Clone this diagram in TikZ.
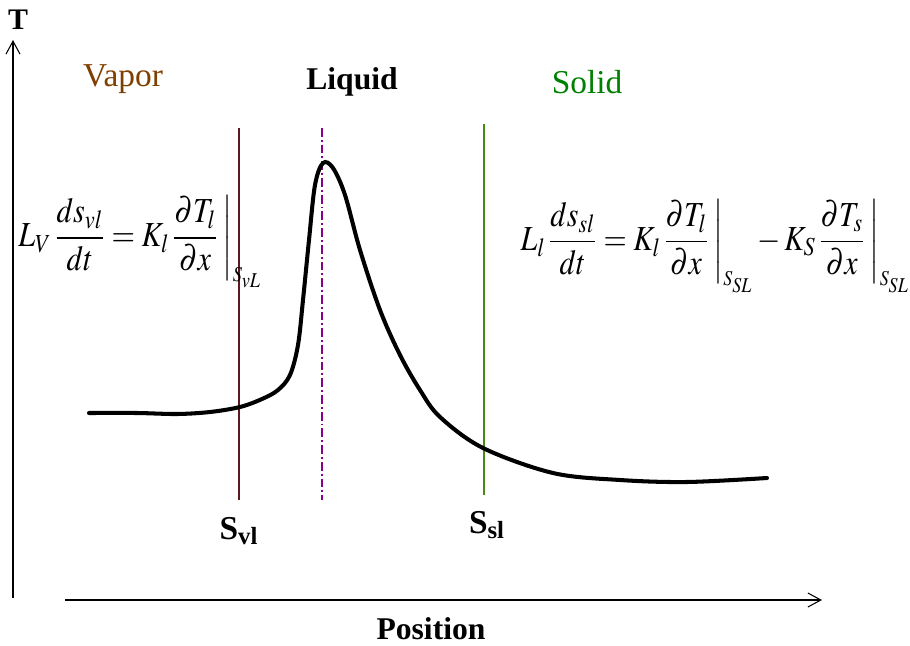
\documentclass[tikz,border=0pt]{standalone}
\usepackage{amsmath}
\usepackage{mathptmx}
\usepackage{fontspec}
\setmainfont{Liberation Serif}
\usetikzlibrary{arrows.meta}

\definecolor{vaporcol}{RGB}{127,63,0}
\definecolor{svlcol}{RGB}{92,26,32}
\definecolor{liqcol}{RGB}{139,0,139}
\definecolor{solcol}{RGB}{0,128,0}
\definecolor{sslcol}{RGB}{72,138,20}

\newcommand{\evalbar}[1]{\left.\vphantom{\dfrac{\partial T}{\partial x}}\right|_{\scriptscriptstyle #1}}

\tikzset{
  fase/.style={font=\fontsize{19}{22}\selectfont},
  frente/.style={line width=1.1pt},
  eqn/.style={inner sep=0pt, font=\fontsize{20}{24}\selectfont},
  rotulo/.style={font=\fontsize{19}{22}\selectfont\bfseries}
}

\begin{document}
\begin{tikzpicture}[x=0.02cm, y=-0.02cm, >={Straight Barb[length=2.6mm,width=2.8mm]}, line width=0.6pt]
  \useasboundingbox (0,0) rectangle (910,646);
  % ejes
  \coordinate (ybot) at (13,598);
  \coordinate (ytop) at (13,40);
  \coordinate (xleft) at (65,600);
  \coordinate (xright) at (822,600);
  \draw[->] (ybot) -- (ytop);
  \draw[->] (xleft) -- (xright);
  \node[font=\fontsize{17}{20}\selectfont\bfseries] (tlab) at (18,20) {T};
  \node[font=\fontsize{18}{21}\selectfont\bfseries] (poslab) at (431,629) {Position};
  % fases
  \node[fase, text=vaporcol] (vapor) at (123,79) {Vapor};
  \node[fase, font=\fontsize{18}{22}\selectfont\bfseries] (liquid) at (352,82) {Liquid};
  \node[fase, text=solcol] (solid) at (587,82) {Solid};
  % frentes
  \coordinate (svltop) at (239,128);
  \coordinate (svlbot) at (239,500);
  \coordinate (midtop) at (322,128);
  \coordinate (midbot) at (322,500);
  \coordinate (ssltop) at (484,124);
  \coordinate (sslbot) at (484,495);
  \draw[frente, svlcol] (svltop) -- (svlbot);
  \draw[frente, liqcol, dash pattern=on 5pt off 1.7pt on 1.1pt off 1.7pt] (midtop) -- (midbot);
  \draw[frente, sslcol] (ssltop) -- (sslbot);
  \node[rotulo] (svl) at (239,531) {S\textsubscript{vl}};
  \node[rotulo] (ssl) at (487,525) {S\textsubscript{sl}};
  % perfil de temperatura
  \draw[line width=2.3pt, line cap=round] plot[smooth, tension=0.55] coordinates {
    (89,413) (137,413) (177,414) (210,412) (240,407) (262,399) (278,390)
    (290,375) (298,345) (303,300) (309,240) (315,185) (323,163) (333,168)
    (345,195) (360,250) (380,310) (400,355) (420,390) (440,417) (483,448)
    (553,473) (620,480) (687,482) (767,478)};
  % balances en las interfaces
  \node[eqn] (eqvl) at (140,242)
    {\scalebox{0.86}[1]{$L_V\,\dfrac{ds_{vl}}{dt}=K_l\,\dfrac{\partial T_l}{\partial x}\evalbar{S_{vL}}$}};
  \node[eqn] (eqsl) at (715,246)
    {\scalebox{0.85}[1]{$L_l\,\dfrac{ds_{sl}}{dt}=K_l\,\dfrac{\partial T_l}{\partial x}\evalbar{S_{SL}}
      -K_S\,\dfrac{\partial T_s}{\partial x}\evalbar{S_{SL}}$}};
\end{tikzpicture}
\end{document}
